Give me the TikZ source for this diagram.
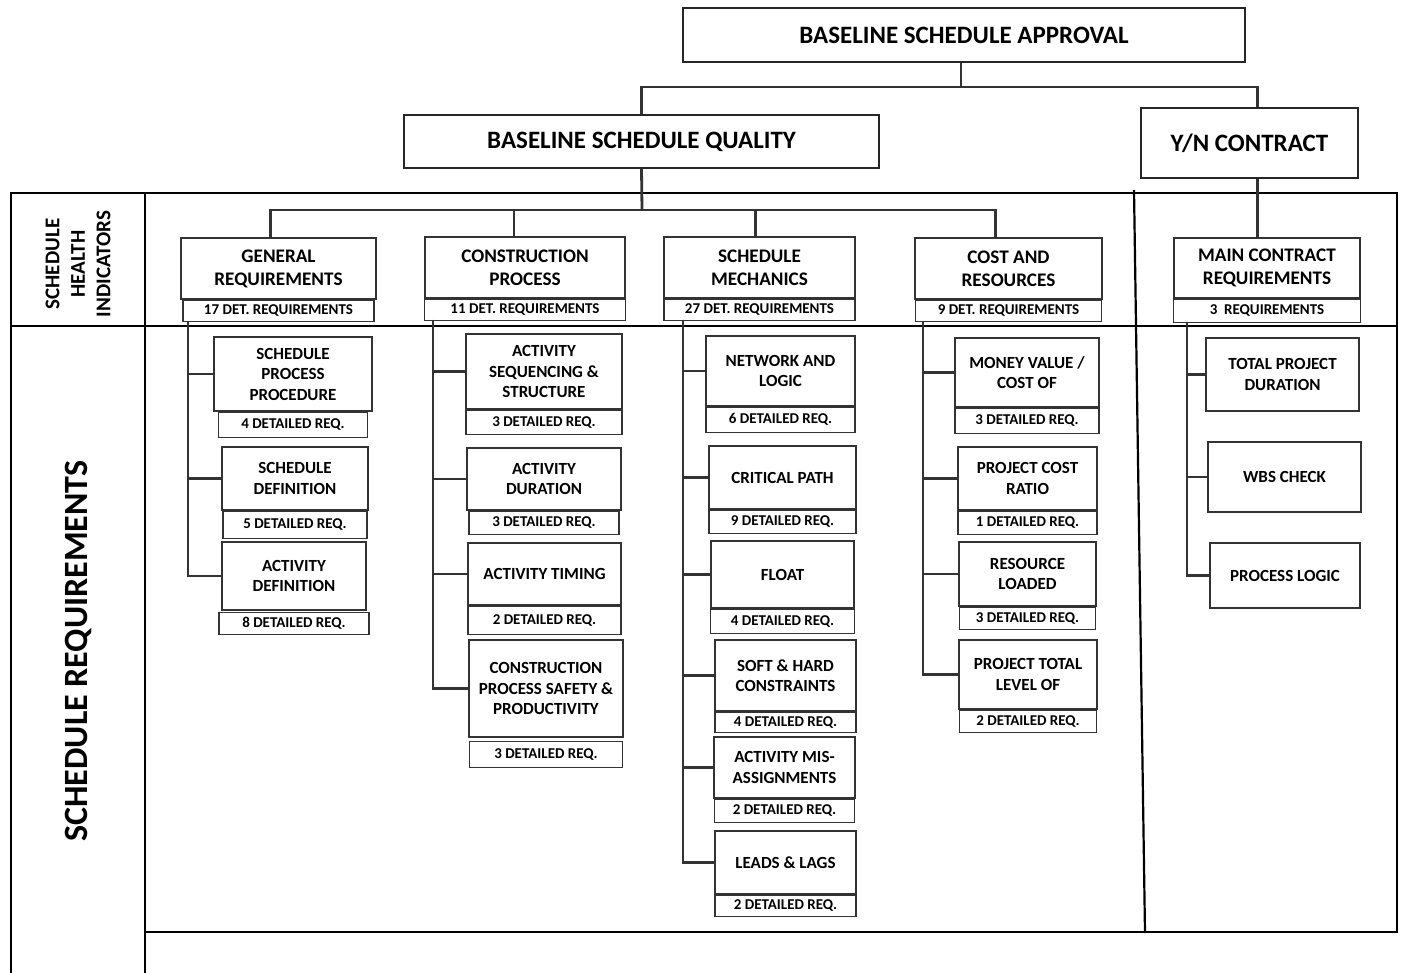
\documentclass[tikz,border=0pt]{standalone}
\usepackage{fontspec}
\setmainfont{Carlito}
\usetikzlibrary{positioning}

\tikzset{
  topbox/.style={draw=black!85, line width=1.6pt, fill=white, font=\bfseries\fontsize{25}{29}\selectfont, inner sep=0pt},
  catbox/.style={draw=black!80, line width=1.2pt, fill=white, align=center, font=\bfseries\fontsize{19.2}{23}\selectfont, inner sep=0pt},
  reqbox/.style={draw=black!80, line width=1.2pt, fill=white, align=center, font=\bfseries\fontsize{17}{20.5}\selectfont, inner sep=0pt},
  cntbox/.style={draw=black!80, line width=1.2pt, fill=white, font=\bfseries\fontsize{15}{16}\selectfont, inner sep=0pt},
  conn/.style={draw=black!80, line width=2.8pt},
  frame/.style={draw=black, line width=2.2pt},
}

\begin{document}
\begin{tikzpicture}[x=1pt,y=-1pt]
\useasboundingbox (0,0) rectangle (1402,973);

% frame of the table
\draw[frame] (11,973) -- (11,193) -- (1397,193) -- (1397,932) -- (145,932);
\draw[frame, line width=1.4pt] (145,193) -- (145,973);
\draw[frame] (11,326) -- (1397,326);
\draw[frame] (1134,190) -- (1145,933);

\node[rotate=90, align=center, font=\bfseries\fontsize{21}{25.5}\selectfont] (shi) at (78,264) {SCHEDULE\\HEALTH\\INDICATORS};
\node[rotate=90, font=\bfseries\fontsize{34}{38}\selectfont] (sreq) at (78,651) {SCHEDULE REQUIREMENTS};

% top levels
\node[topbox, minimum width=562pt, minimum height=54pt] (app) at (964,35) {BASELINE SCHEDULE APPROVAL};
\node[topbox, minimum width=475pt, minimum height=53pt] (bsq) at (641.5,141.5) {BASELINE SCHEDULE QUALITY};
\node[topbox, minimum width=217pt, minimum height=70pt] (ync) at (1249.5,143) {Y/N CONTRACT};

\coordinate (tj) at (961,87);
\draw[conn] (app.south -| tj) -- (tj);
\draw[conn] (bsq.north) |- (tj) -| ([xshift=8pt]ync.north);

% health indicators
\node[catbox, minimum width=195pt, minimum height=61pt] (gen) at (278.5,268.5) {GENERAL\\REQUIREMENTS};
\node[cntbox, minimum width=191pt, minimum height=21pt, below=0pt of gen] (gen-n) {17 DET. REQUIREMENTS};
\node[catbox, minimum width=200pt, minimum height=61pt] (con) at (525,267.5) {CONSTRUCTION\\PROCESS};
\node[cntbox, minimum width=201pt, minimum height=21pt, below=0pt of con] (con-n) {11 DET. REQUIREMENTS};
\node[catbox, minimum width=191pt, minimum height=61pt] (mech) at (759.5,267.5) {SCHEDULE\\MECHANICS};
\node[cntbox, minimum width=191pt, minimum height=21pt, below=0pt of mech] (mech-n) {27 DET. REQUIREMENTS};
\node[catbox, minimum width=187pt, minimum height=61pt] (cost) at (1008.5,268.5) {COST AND\\RESOURCES};
\node[cntbox, minimum width=186pt, minimum height=21pt, below=0pt of cost] (cost-n) {9 DET. REQUIREMENTS};
\node[catbox, minimum width=186pt, minimum height=60pt] (mcr) at (1267,268) {MAIN CONTRACT\\REQUIREMENTS};
\node[cntbox, minimum width=187pt, minimum height=23pt, below=0pt of mcr] (mcr-n) {3\ \ REQUIREMENTS};

\coordinate (qj) at (642,210);
\draw[conn] (bsq.south) -- (qj);
\draw[conn] ([xshift=-8pt]gen.north) |- (qj) -| ([xshift=-13pt]cost.north);
\draw[conn] ([xshift=-11pt]con.north) -- ([xshift=-11pt]con.north |- qj);
\draw[conn] ([xshift=-4pt]mech.north) -- ([xshift=-4pt]mech.north |- qj);
\draw[conn] ([xshift=8pt]ync.south) -- ([xshift=8pt]ync.south |- mcr.north);

% general requirements
\node[reqbox, minimum width=158pt, minimum height=74pt] (spp) at (293,374) {SCHEDULE\\PROCESS\\PROCEDURE};
\node[cntbox, minimum width=149pt, minimum height=25pt, below=0pt of spp] (spp-n) {4 DETAILED REQ.};
\node[reqbox, minimum width=146pt, minimum height=63pt] (sdef) at (295,478.5) {SCHEDULE\\DEFINITION};
\node[cntbox, minimum width=144pt, minimum height=27pt, below=0pt of sdef] (sdef-n) {5 DETAILED REQ.};
\node[reqbox, minimum width=144pt, minimum height=68pt] (adef) at (294,576) {ACTIVITY\\DEFINITION};
\node[cntbox, minimum width=150pt, minimum height=22pt, below=1pt of adef] (adef-n) {8 DETAILED REQ.};

\coordinate (gsp) at (188,321);
\draw[conn] (gsp) |- (spp);
\draw[conn] (gsp) |- (sdef);
\draw[conn] (gsp) |- (adef);

% construction process
\node[reqbox, minimum width=156pt, minimum height=75pt] (aseq) at (544,371.5) {ACTIVITY\\SEQUENCING \&\\STRUCTURE};
\node[cntbox, minimum width=156pt, minimum height=24pt, below=0pt of aseq] (aseq-n) {3 DETAILED REQ.};
\node[reqbox, minimum width=154pt, minimum height=62pt] (adur) at (544,479) {ACTIVITY\\DURATION};
\node[cntbox, minimum width=150pt, minimum height=23pt, below=0pt of adur] (adur-n) {3 DETAILED REQ.};
\node[reqbox, minimum width=153pt, minimum height=62pt] (atim) at (544.5,574) {ACTIVITY TIMING};
\node[cntbox, minimum width=153pt, minimum height=28pt, below=0pt of atim] (atim-n) {2 DETAILED REQ.};
\node[reqbox, minimum width=154pt, minimum height=97pt] (cps) at (546,688.5) {CONSTRUCTION\\PROCESS SAFETY \&\\PRODUCTIVITY};
\node[cntbox, minimum width=153pt, minimum height=26pt, below=3pt of cps] (cps-n) {3 DETAILED REQ.};

\coordinate (csp) at (433,320);
\draw[conn] (csp) |- (aseq);
\draw[conn] (csp) |- (adur);
\draw[conn] (csp) |- (atim);
\draw[conn] (csp) |- (cps);

% schedule mechanics
\node[reqbox, minimum width=149pt, minimum height=70pt] (netl) at (780.5,371) {NETWORK AND\\LOGIC};
\node[cntbox, minimum width=149pt, minimum height=25pt, below=0pt of netl] (netl-n) {6 DETAILED REQ.};
\node[reqbox, minimum width=147pt, minimum height=63pt] (crit) at (782.5,477.5) {CRITICAL PATH};
\node[cntbox, minimum width=147pt, minimum height=23pt, below=0pt of crit] (crit-n) {9 DETAILED REQ.};
\node[reqbox, minimum width=143pt, minimum height=67pt] (flt) at (782.5,574.5) {FLOAT};
\node[cntbox, minimum width=144pt, minimum height=24pt, below=0pt of flt] (flt-n) {4 DETAILED REQ.};
\node[reqbox, minimum width=141pt, minimum height=71pt] (shc) at (785.5,675.5) {SOFT \& HARD\\CONSTRAINTS};
\node[cntbox, minimum width=141pt, minimum height=20pt, below=0pt of shc] (shc-n) {4 DETAILED REQ.};
\node[reqbox, minimum width=141pt, minimum height=61pt] (amis) at (784.5,767.5) {ACTIVITY MIS-\\ASSIGNMENTS};
\node[cntbox, minimum width=140pt, minimum height=23pt, below=0pt of amis] (amis-n) {2 DETAILED REQ.};
\node[reqbox, minimum width=141pt, minimum height=63pt] (ll) at (785.5,862.5) {LEADS \& LAGS};
\node[cntbox, minimum width=141pt, minimum height=21pt, below=0pt of ll] (ll-n) {2 DETAILED REQ.};

\coordinate (msp) at (683,320);
\draw[conn] (msp) |- (netl);
\draw[conn] (msp) |- (crit);
\draw[conn] (msp) |- (flt);
\draw[conn] (msp) |- (shc);
\draw[conn] (msp) |- (amis);
\draw[conn] (msp) |- (ll);

% cost and resources
\node[reqbox, minimum width=144pt, minimum height=69pt] (mon) at (1027,372.5) {MONEY VALUE /\\COST OF};
\node[cntbox, minimum width=144pt, minimum height=25pt, below=0pt of mon] (mon-n) {3 DETAILED REQ.};
\node[reqbox, minimum width=139pt, minimum height=63pt] (pcr) at (1027.5,478.5) {PROJECT COST\\RATIO};
\node[cntbox, minimum width=139pt, minimum height=23pt, below=0pt of pcr] (pcr-n) {1 DETAILED REQ.};
\node[reqbox, minimum width=137pt, minimum height=64pt] (res) at (1027.5,574) {RESOURCE\\LOADED};
\node[cntbox, minimum width=136pt, minimum height=22pt, below=0pt of res] (res-n) {3 DETAILED REQ.};
\node[reqbox, minimum width=138pt, minimum height=69pt] (ptl) at (1028,674.5) {PROJECT TOTAL\\LEVEL OF};
\node[cntbox, minimum width=137pt, minimum height=22pt, below=0pt of ptl] (ptl-n) {2 DETAILED REQ.};

\coordinate (rsp) at (923,321);
\draw[conn] (rsp) |- (mon);
\draw[conn] (rsp) |- (pcr);
\draw[conn] (rsp) |- (res);
\draw[conn] (rsp) |- (ptl);

% main contract
\node[reqbox, minimum width=153pt, minimum height=73pt] (tpd) at (1282.5,374.5) {TOTAL PROJECT\\DURATION};
\node[reqbox, minimum width=153pt, minimum height=70pt] (wbs) at (1284.5,477) {WBS CHECK};
\node[reqbox, minimum width=150pt, minimum height=65pt] (plog) at (1285,575.5) {PROCESS LOGIC};

\coordinate (ksp) at (1187,322);
\draw[conn] (ksp) |- (tpd);
\draw[conn] (ksp) |- (wbs);
\draw[conn] (ksp) |- (plog);
\end{tikzpicture}
\end{document}
